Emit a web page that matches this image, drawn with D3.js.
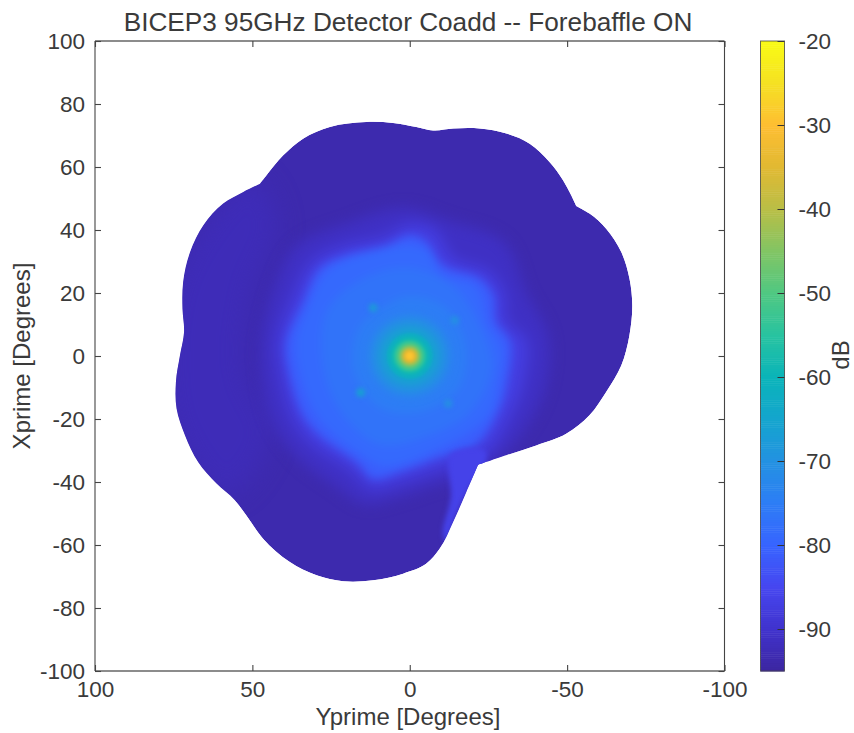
<!DOCTYPE html>
<html>
<head>
<meta charset="utf-8">
<script src="https://d3js.org/d3.v7.min.js"></script>
<style>
  body { margin: 0; background: #fff; font-family: 'Liberation Sans', sans-serif; }
  text { fill: #3a3a3a; }
</style>
</head>
<body>
<div id="my_dataviz"></div>
<script>
// axis ticks
const xTicks = [100, 50, 0, -50, -100];
const yTicks = [100, 80, 60, 40, 20, 0, -20, -40, -60, -80, -100];
const cbTicks = [-20, -30, -40, -50, -60, -70, -80, -90];

// colormap
const cmapDb = [-95, -90, -85, -80, -75, -70, -65, -60, -55, -50, -45, -40, -35, -30, -25, -20];
const cmapColors = ["#3c26a0", "#4032cd", "#4646f0", "#3764ff", "#2d7df5", "#2391e1", "#14a5cd", "#0ab4b9",
                    "#28c3a0", "#50c882", "#82c564", "#b9be46", "#e1b932", "#febe32", "#f5e123", "#f9fb14"];

// map outline [yprime, xprime], corners listed twice so they stay sharp
const outline = [[13.8,74.3],[5.3,74],[-2.1,72.7],[-7.4,71.6],[-13.8,72.2],[-22.2,72.2],[-30.7,70.6],[-38.1,67.4],
  [-44.4,61.6],[-48.7,55.8],[-51.3,51],[-52.9,47.6],[-52.9,47.6],[-57.1,45.2],[-62.4,40.4],[-67.2,33],[-69.8,24.6],[-70.7,16.1],
  [-69.8,6.6],[-67.2,-3],[-62.4,-11.4],[-57.1,-18.8],[-49.7,-24.7],[-40.2,-28.4],[-30.7,-31.5],[-21.7,-34.5],[-21.7,-34.5],
  [-18,-43.2],[-13.8,-52.7],[-9.5,-61.2],[-5.3,-65.9],[2.1,-69.1],[11.6,-71.2],[21.2,-71.5],[29.6,-69.6],[38.1,-65.4],
  [46.6,-58],[51.9,-50.6],[55.6,-45.8],[61.4,-40.5],[67.2,-33.7],[71.4,-25.2],[74.1,-16.7],[74.3,-8.3],[73,0.2],
  [71.7,7.6],[72.2,15],[72,23.5],[69.8,33],[65.6,41.5],[59.3,48.4],[52.9,52.1],[47.6,54.7],[47.6,54.7],[45.5,57.4],[40.2,63.7],
  [33.9,69],[25.4,72.7]];

// slightly brighter left flank of the map
const leftFlank = [[50,56],[72,30],[78,0],[74,-25],[58,-44],[44,-25],[52,-5],[50,20],[42,42]];
const leftFlankDb = -92.3;

// soft outer shoulder of the plume
const outerLevels = [-91, -87];
const contour91 = [[2,47],[-12,43],[-30,36],[-37,20],[-44,6],[-43,-10],[-36,-24],[-24,-36],[-8,-41],[4,-45],[14,-47],[24,-41],[36,-32],[44,-20],[47,-6],[47,6],[43,22],[36,35],[20,42]];
const contour87 = [[0,42],[-8,40],[-14,31],[-25,27],[-30,20],[-31,11],[-37,5],[-36,-9],[-32,-19],[-24,-31],[-9,-36],[3,-40],[12,-42],[19,-36],[31,-28],[37,-20],[41,-6],[42,5],[37,19],[31,30],[21,35],[8,38]];
const outerContours = [contour91, contour87];

// inner contours of the plume, outermost first
const plumeLevels = [-81, -79, -77, -75];
const contour81 = [[0,38.3],[-5.3,36.2],[-10.6,28.8],[-22.2,24.6],[-26.5,19.3],[-27.5,10.8],[-32,4.4],[-31,-8.3],[-28.6,-16.7],[-21.2,-28],[-8.5,-32.5],[3.2,-36.8],[11.6,-38.9],[16.9,-33.7],[28.6,-25.2],[33.9,-18.8],[38.1,-6.1],[39.2,4.4],[33.9,17.1],[28.6,27.7],[20.1,32],[7.4,35.1]];
const contour79 = [[0,35],[-6,33],[-10,26],[-21,22],[-25,10],[-29,3],[-28,-9],[-25,-19],[-8,-30],[8,-35],[16,-31],[27,-22],[32,-14],[36,4],[32,16],[26,27],[12,33]];
const contour77 = [[0,28],[-14,22],[-23,8],[-26,-4],[-19,-18],[-4,-26],[10,-28],[23,-16],[28,0],[26,15],[14,25]];
const contour75 = [[0,19],[-12,15],[-18,2],[-15,-11],[-2,-18],[10,-16],[18,-4],[16,9],[8,16]];
const plumeContours = [contour81, contour79, contour77, contour75];

// bright strip along the lower right edge
const edgeStrip = [[-13,-31],[-24,-30],[-24,-34],[-19,-42],[-15,-50],[-11.5,-59],[-10.5,-56],[-13,-45]];
const edgeStripDb = -86;

// main beam: level and radius in degrees
const haloDb = [-72, -69, -65];
const haloRadius = [13, 11, 8.5];
const coreDb = [-62, -59, -56, -53, -50, -47, -44, -41, -38, -35, -32, -29];
const coreRadius = [7.2, 6, 5.2, 4.6, 4, 3.5, 3.1, 2.7, 2.3, 1.9, 1.5, 1];

// faint ghost spots
const spotY = [11.6, 15.6, -14.3, -12.2];
const spotX = [15.3, -11.6, 11.3, -15.1];
const spotDb = [-67, -65, -70, -70];

const width = 854, height = 733;
const margin = {top: 41, right: 129.5, bottom: 62, left: 95};
const cbLeft = 760.5, cbWidth = 24;
const fontFamily = "'Liberation Sans', sans-serif";

const svg = d3.select("#my_dataviz").append("svg")
    .attr("width", width).attr("height", height)
    .style("display", "block");

const x = d3.scaleLinear().domain([100, -100]).range([margin.left, width - margin.right]);
const y = d3.scaleLinear().domain([100, -100]).range([margin.top, height - margin.bottom]);
const cb = d3.scaleLinear().domain([-20, -95]).range([margin.top, height - margin.bottom]);
const color = d3.scaleLinear().domain(cmapDb).range(cmapColors);
const pxPerDeg = Math.abs(x(1) - x(0));

const defs = svg.append("defs");
[["blurOuter", 7], ["blurWide", 4], ["blurMid", 2.5], ["blurCore", 1.3], ["blurEdge", 12]].forEach(f => {
  defs.append("filter").attr("id", f[0])
      .attr("color-interpolation-filters", "sRGB")
      .attr("x", "-40%").attr("y", "-40%").attr("width", "180%").attr("height", "180%")
    .append("feGaussianBlur").attr("stdDeviation", f[1]);
});

const closed = d3.line().x(d => x(d[0])).y(d => y(d[1])).curve(d3.curveCatmullRomClosed.alpha(0.5));
const edge = d3.line().x(d => x(d[0])).y(d => y(d[1])).curve(d3.curveCatmullRomClosed.alpha(1));

defs.append("clipPath").attr("id", "mapClip").append("path").attr("d", edge(outline));

// beam map
const map = svg.append("g").attr("clip-path", "url(#mapClip)");
map.append("path").attr("d", edge(outline)).attr("fill", color(-93.5));
map.append("path").attr("d", closed(leftFlank)).attr("fill", color(leftFlankDb)).attr("filter", "url(#blurEdge)");

const outer = map.append("g").attr("filter", "url(#blurOuter)");
outer.selectAll("path").data(outerContours).join("path")
    .attr("d", closed)
    .attr("fill", (d, i) => color(outerLevels[i]));

const plume = map.append("g").attr("filter", "url(#blurWide)");
plume.selectAll("path").data(plumeContours).join("path")
    .attr("d", closed)
    .attr("fill", (d, i) => color(plumeLevels[i]));
map.append("path").attr("d", closed(edgeStrip)).attr("fill", color(edgeStripDb)).attr("filter", "url(#blurMid)");

const halo = map.append("g").attr("filter", "url(#blurWide)");
halo.selectAll("circle").data(haloDb).join("circle")
    .attr("cx", x(0)).attr("cy", y(0))
    .attr("r", (d, i) => haloRadius[i] * pxPerDeg)
    .attr("fill", d => color(d));

const spots = map.append("g").attr("filter", "url(#blurMid)");
spots.selectAll("circle").data(spotDb).join("circle")
    .attr("cx", (d, i) => x(spotY[i])).attr("cy", (d, i) => y(spotX[i]))
    .attr("r", 1.3 * pxPerDeg).attr("fill", d => color(d));

const core = map.append("g").attr("filter", "url(#blurCore)");
core.selectAll("circle").data(coreDb).join("circle")
    .attr("cx", x(0)).attr("cy", y(0))
    .attr("r", (d, i) => coreRadius[i] * pxPerDeg)
    .attr("fill", d => color(d));

// axes box, ticks inward on all four sides
const fmt = d => String(d);
const xAxis = svg.append("g").attr("transform", `translate(0,${y(-100)})`)
    .call(d3.axisBottom(x).tickValues(xTicks).tickSize(-6).tickPadding(12).tickFormat(fmt));
const xTop = svg.append("g").attr("transform", `translate(0,${y(100)})`)
    .call(d3.axisTop(x).tickValues(xTicks).tickSize(-6).tickFormat(""));
const yAxis = svg.append("g").attr("transform", `translate(${x(100)},0)`)
    .call(d3.axisLeft(y).tickValues(yTicks).tickSize(-6).tickPadding(10).tickFormat(fmt));
const yRight = svg.append("g").attr("transform", `translate(${x(-100)},0)`)
    .call(d3.axisRight(y).tickValues(yTicks).tickSize(-6).tickFormat(""));
[xAxis, xTop, yAxis, yRight].forEach(a => {
  a.selectAll("path, line").attr("stroke", "#444").attr("stroke-width", 1.1);
  a.selectAll("text").attr("font-size", 22.5).attr("font-family", fontFamily);
});
xAxis.selectAll("text").attr("dy", "0.62em");
xAxis.select("path").attr("d", `M${x(100)},0H${x(-100)}`).attr("stroke", "#666").attr("stroke-width", 1.6);
xTop.select("path").attr("d", `M${x(100)},0H${x(-100)}`).attr("stroke", "#666").attr("stroke-width", 1.6);
yAxis.select("path").attr("d", `M0,${y(100)}V${y(-100)}`);
yRight.select("path").attr("d", `M0,${y(100)}V${y(-100)}`);

// colorbar
const cbSteps = d3.range(-95, -20, 0.25);
svg.append("g").selectAll("rect").data(cbSteps).join("rect")
    .attr("x", cbLeft).attr("width", cbWidth)
    .attr("y", d => cb(d + 0.25)).attr("height", d => cb(d) - cb(d + 0.25) + 0.5)
    .attr("fill", d => color(d + 0.125));
const cbAxis = svg.append("g").attr("transform", `translate(${cbLeft + cbWidth},0)`)
    .call(d3.axisRight(cb).tickValues(cbTicks).tickSize(-7).tickPadding(14).tickFormat(fmt));
cbAxis.select("path").remove();
cbAxis.selectAll("line").attr("stroke", "#333").attr("stroke-width", 1);
cbAxis.selectAll("text").attr("font-size", 22.5).attr("font-family", fontFamily);
svg.append("rect")
    .attr("x", cbLeft).attr("y", cb(-20)).attr("width", cbWidth).attr("height", cb(-95) - cb(-20))
    .attr("fill", "none").attr("stroke", "#444").attr("stroke-opacity", 0.8);

// labels
svg.append("text").attr("x", 408).attr("y", 31).attr("text-anchor", "middle")
    .attr("font-size", 26.2).text("BICEP3 95GHz Detector Coadd -- Forebaffle ON");
svg.append("text").attr("x", 408).attr("y", 725).attr("text-anchor", "middle")
    .attr("font-size", 24).text("Yprime [Degrees]");
svg.append("text").attr("transform", "translate(30,356) rotate(-90)").attr("text-anchor", "middle")
    .attr("font-size", 24).text("Xprime [Degrees]");
svg.append("text").attr("transform", "translate(848.5,355) rotate(-90)").attr("text-anchor", "middle")
    .attr("font-size", 24).text("dB");
</script>
</body>
</html>
